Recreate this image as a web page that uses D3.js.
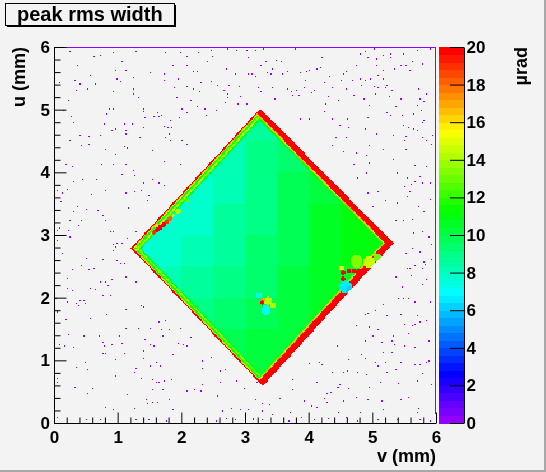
<!DOCTYPE html>
<html>
<head>
<meta charset="utf-8">
<script src="https://cdn.jsdelivr.net/npm/d3@7"></script>
<style>
  body { margin: 0; background: #f3f3f3; }
  #chart { position: relative; width: 546px; height: 472px; overflow: hidden; }
  #chart canvas, #chart svg { position: absolute; left: 0; top: 0; }
</style>
</head>
<body>
<div id="chart"></div>
<script>
// histogram range (mm) and z range (µrad)
const vRange = [0, 6];
const uRange = [0, 6];
const zRange = [0, 20];
const nBins = 300;

const xTicks = [0, 1, 2, 3, 4, 5, 6];
const yTicks = [0, 1, 2, 3, 4, 5, 6];
const zTicks = [0, 2, 4, 6, 8, 10, 12, 14, 16, 18, 20];

const title = "peak rms width";
const xTitle = "v (mm)";
const yTitle = "u (mm)";
const zTitle = "µrad";

// sensor corners [v, u], clockwise: left, top, right, bottom
const corners = [[1.21, 2.79], [3.24, 5.02], [5.33, 2.87], [3.28, 0.59]];

// value against distance in from each edge, 0.01 mm steps
// edges: left-top, top-right, right-bottom, bottom-left
const profileStep = 0.01;
const edgeProfiles = [
  [20, 20, 17, 14, 11, 11, 12, 14, 15, 13, 11, 10.5],
  [20, 20, 20, 20, 20, 20, 20, 20, 20, 17, 14, 12.5, 11.5, 11],
  [20, 20, 20, 20, 20, 20, 20, 20, 20, 20, 17, 14, 12.5, 11.5],
  [20, 20, 16, 13, 11, 11.5, 13, 14, 12.5, 11, 10]
];

// plateau inside the sensor, 0.5 mm cells, columns from v = 1.0, rows from u = 5.0 down
const innerV0 = 1.0, innerU0 = 5.0, innerStep = 0.5;
const inner = [
  [8.8, 8.8, 8.8, 8.5, 8.7, 9.1, 9.6, 10.0, 10.0],
  [8.1, 8.1, 8.0, 8.3, 8.8, 9.4, 10.0, 10.4, 10.6],
  [7.8, 7.8, 7.9, 8.3, 8.9, 9.6, 10.2, 10.6, 10.8],
  [7.6, 7.6, 7.9, 8.4, 9.1, 9.8, 10.4, 10.8, 11.0],
  [7.4, 7.6, 8.1, 8.6, 9.2, 9.9, 10.5, 10.9, 11.0],
  [7.9, 8.2, 8.6, 9.0, 9.4, 10.0, 10.5, 10.6, 10.8],
  [8.6, 8.8, 9.0, 9.3, 9.7, 10.1, 10.4, 10.6, 10.6],
  [9.3, 9.4, 9.5, 9.7, 10.0, 10.3, 10.5, 10.6, 10.6],
  [10.0, 10.0, 10.0, 10.0, 10.2, 10.4, 10.5, 10.5, 10.5]
];

// local features [v, u, radius, value], later ones drawn over earlier ones
const spots = [
  // streak inside the upper-left edge
  [1.95, 3.38, 0.045, 14], [2.10, 3.55, 0.035, 13], [1.62, 3.14, 0.035, 14],
  [1.57, 3.04, 0.035, 19], [1.62, 3.08, 0.040, 20], [1.67, 3.12, 0.040, 20], [1.72, 3.16, 0.040, 20],
  [1.77, 3.21, 0.035, 19], [1.82, 3.26, 0.032, 18], [1.87, 3.31, 0.028, 16],
  // spot near the centre
  [3.33, 1.80, 0.075, 7], [3.22, 2.04, 0.045, 7.5],
  [3.36, 1.95, 0.065, 14], [3.44, 1.88, 0.045, 14],
  [3.29, 1.97, 0.030, 17], [3.27, 1.92, 0.035, 20],
  // damage near the right corner
  [4.75, 2.58, 0.100, 13.5], [4.95, 2.57, 0.090, 14.5], [5.08, 2.64, 0.070, 13], [4.52, 2.47, 0.040, 15],
  [4.58, 2.17, 0.100, 6.5], [4.63, 2.12, 0.060, 6],
  [4.54, 2.30, 0.035, 20], [4.54, 2.40, 0.035, 20], [4.63, 2.43, 0.035, 20],
  [4.71, 2.43, 0.035, 20], [4.79, 2.41, 0.045, 20]
];

// thin rim of low bins: top row and right column
const rimValue = 0.3;
const rimTopU = 5.99;
const rimRightV = 5.99, rimRightFromU = 0.14;

// isolated low bins outside the sensor [v, u]
const strayValue = 0.3;
const strays = [
  [0.24,5.92],[0.72,5.87],[0.92,5.90],[1.29,5.93],[0.63,5.84],[1.74,5.90],[1.99,5.91],[2.28,5.90],
  [2.46,5.94],[2.72,5.96],[2.86,5.94],[3.02,5.94],[2.49,5.84],[2.41,5.76],[3.04,5.83],[2.09,5.85],
  [0.36,5.71],[1.07,5.77],[1.87,5.71],[2.08,5.70],[0.97,5.62],[1.13,5.62],[1.51,5.59],[1.73,5.57],
  [2.19,5.60],[2.26,5.61],[2.84,5.57],[3.04,5.56],[2.70,5.64],[0.58,5.54],[0.98,5.49],[1.05,5.45],
  [1.24,5.51],[1.72,5.47],[1.94,5.49],[2.31,5.43],[2.46,5.45],[2.57,5.38],[2.74,5.38],[2.91,5.37],
  [0.32,5.47],[0.40,5.40],[0.65,5.40],[0.08,5.42],[0.53,5.32],[0.92,5.28],[1.24,5.32],[1.25,5.25],
  [1.89,5.34],[2.08,5.36],[2.19,5.32],[2.29,5.29],[2.66,5.30],[2.73,5.19],[2.92,5.20],[0.34,5.31],
  [0.23,5.15],[1.32,5.19],[1.93,5.18],[2.14,5.14],[2.69,5.11],[2.88,5.10],[3.02,5.08],[2.72,5.24],
  [0.87,5.02],[0.92,5.01],[1.40,5.01],[1.40,4.97],[1.62,4.94],[1.65,4.89],[1.69,4.90],[2.08,4.94],
  [2.26,5.04],[2.37,5.01],[2.55,4.98],[2.01,5.01],[0.15,4.99],[0.27,4.88],[0.83,4.93],[1.97,4.87],
  [1.82,4.83],[2.39,4.90],[1.23,4.77],[1.42,4.86],[1.57,4.88],[0.30,4.79],[0.79,4.77],[0.91,4.68],
  [0.97,4.69],[1.10,4.77],[1.12,4.67],[1.40,4.70],[1.72,4.73],[1.79,4.70],[1.85,4.72],[0.41,4.59],
  [0.54,4.57],[0.72,4.59],[1.13,4.61],[1.35,4.55],[1.80,4.61],[1.74,4.56],[1.82,4.51],[2.01,4.52],
  [0.24,4.51],[0.43,4.43],[0.54,4.45],[0.81,4.37],[1.11,4.40],[1.15,4.39],[1.55,4.35],[0.96,4.29],
  [2.08,4.44],[0.01,4.20],[0.19,4.14],[0.75,4.14],[0.92,4.13],[1.12,4.14],[1.72,4.18],[1.99,4.13],
  [0.28,4.09],[1.24,4.03],[1.07,3.97],[1.26,3.95],[0.45,3.89],[0.67,3.88],[1.40,3.83],[1.54,3.88],
  [1.64,3.82],[1.72,3.78],[0.30,3.85],[0.04,3.70],[0.13,3.66],[0.21,3.72],[0.80,3.70],[1.13,3.66],
  [1.27,3.69],[1.37,3.70],[1.49,3.62],[0.59,3.65],[1.47,3.54],[0.10,3.52],[0.37,3.45],[0.51,3.40],
  [0.68,3.38],[0.77,3.31],[0.81,3.23],[1.18,3.43],[0.31,3.36],[0.25,3.23],[0.42,3.22],[0.38,3.14],
  [0.08,3.10],[0.05,3.07],[0.23,3.06],[0.89,3.04],[0.93,3.04],[1.28,3.04],
  [3.17,5.95],[3.29,5.96],[3.79,5.97],[4.81,5.89],[4.88,5.93],[5.03,5.96],[5.17,5.87],[5.28,5.89],
  [5.49,5.89],[5.70,5.94],[5.90,5.97],[3.33,5.77],[3.49,5.79],[3.57,5.77],[4.21,5.83],[4.93,5.82],
  [5.07,5.81],[5.28,5.82],[3.24,5.70],[3.42,5.65],[3.96,5.60],[4.13,5.65],[4.19,5.67],[4.58,5.61],
  [4.76,5.70],[5.07,5.71],[5.44,5.71],[5.52,5.70],[5.62,5.76],[5.79,5.73],[3.10,5.57],[3.34,5.59],
  [3.40,5.56],[3.66,5.60],[3.58,5.57],[3.87,5.59],[4.01,5.63],[4.56,5.56],[5.17,5.63],[5.35,5.64],
  [5.59,5.63],[3.17,5.52],[4.33,5.52],[4.81,5.48],[4.96,5.49],[5.10,5.54],[5.17,5.48],[3.94,5.46],
  [4.26,5.43],[4.51,5.46],[4.69,5.47],[4.89,5.46],[5.23,5.38],[4.82,5.39],[5.03,5.37],[3.20,5.35],
  [3.25,5.29],[3.43,5.34],[3.67,5.32],[3.73,5.29],[3.81,5.30],[3.93,5.35],[4.09,5.30],[4.36,5.34],
  [4.60,5.32],[5.09,5.35],[5.21,5.35],[5.31,5.31],[5.72,5.32],[5.85,5.24],[3.46,5.16],[3.76,5.22],
  [3.85,5.23],[4.05,5.26],[4.30,5.20],[4.70,5.22],[4.87,5.16],[5.05,5.25],[5.27,5.20],[5.45,5.16],
  [5.75,5.16],[5.80,5.13],[4.27,5.09],[4.47,5.14],[4.95,5.07],[5.37,5.05],[5.70,5.07],[5.76,4.99],
  [4.26,4.96],[5.23,4.95],[5.29,4.91],[5.47,4.91],[5.65,4.92],[3.87,4.84],[4.01,4.85],[4.37,4.85],
  [4.61,4.85],[4.92,4.87],[5.48,4.76],[5.78,4.78],[5.80,4.83],[4.48,4.74],[4.62,4.72],[5.56,4.71],
  [5.65,4.69],[5.70,4.66],[4.89,4.69],[5.07,4.61],[5.33,4.58],[5.53,4.57],[5.79,4.54],[5.85,4.52],
  [5.95,4.58],[4.43,4.54],[4.60,4.55],[4.94,4.42],[5.16,4.37],[5.51,4.50],[4.36,4.43],[4.76,4.31],
  [4.91,4.27],[4.56,4.32],[5.92,4.44],[5.32,4.21],[5.53,4.37],[5.66,4.11],[5.85,4.10],[4.70,4.14],
  [4.90,3.99],[4.95,4.15],[5.54,3.91],[5.66,3.84],[5.75,3.93],[5.78,3.82],[4.77,3.90],[5.39,3.99],
  [4.93,3.67],[5.09,3.69],[5.50,3.77],[5.58,3.68],[5.61,3.81],[5.91,3.83],[5.21,3.55],[5.55,3.61],
  [5.38,3.50],[5.72,3.45],[5.80,3.37],[5.91,3.56],[5.01,3.44],[5.49,3.23],[5.62,3.24],[5.37,3.23],
  [5.98,3.28],[5.65,3.02],[5.79,3.04],
  [0.25,2.96],[0.04,2.90],[0.13,2.70],[0.28,2.45],[0.42,2.51],[0.51,2.63],[0.55,2.45],[0.63,2.47],
  [0.76,2.60],[0.92,2.85],[0.99,2.86],[1.07,2.86],[1.15,2.94],[0.92,2.74],[0.97,2.80],[0.98,2.58],
  [1.05,2.54],[1.10,2.54],[1.14,2.34],[1.28,2.24],[0.73,2.24],[0.81,2.25],[0.90,2.29],[0.84,2.18],
  [0.58,2.14],[0.65,2.13],[0.77,2.02],[0.88,2.02],[0.21,2.32],[0.21,2.14],[0.28,2.10],[0.03,1.98],
  [0.21,1.92],[0.35,1.90],[0.38,1.88],[0.40,1.94],[0.46,1.94],[0.48,1.91],[0.05,1.76],[0.18,1.65],
  [0.58,1.67],[0.83,1.72],[1.13,1.81],[1.36,1.87],[1.41,1.85],[0.22,1.41],[0.46,1.39],[0.71,1.39],
  [1.03,1.39],[1.13,1.51],[1.32,1.51],[1.50,1.50],[1.64,1.61],[1.75,1.63],[1.69,1.48],[1.70,1.39],
  [1.81,1.49],[1.98,1.51],[2.15,1.37],[0.08,1.24],[0.17,1.22],[0.31,1.21],[0.77,1.29],[0.79,1.22],
  [0.90,1.25],[1.07,1.27],[1.42,1.32],[1.50,1.25],[1.57,1.22],[1.94,1.27],[2.03,1.24],[2.09,1.22],
  [0.76,1.11],[0.80,1.11],[1.10,1.11],[1.40,1.15],[1.86,1.09],[2.46,1.05],[0.96,1.01],[1.40,1.02],
  [0.49,0.96],[1.60,0.96],[2.33,0.99],[0.34,0.89],[0.52,0.85],[1.50,0.91],[1.66,0.91],[1.28,0.86],
  [0.97,0.75],[1.26,0.80],[1.37,0.70],[1.55,0.68],[1.60,0.64],[1.65,0.65],[1.73,0.66],[1.84,0.68],
  [0.04,0.70],[0.05,0.64],[2.34,0.86],[2.60,0.83],[2.69,0.84],[1.54,0.53],[1.70,0.52],[2.09,0.51],
  [2.20,0.52],[2.32,0.50],[2.33,0.60],[2.61,0.64],[2.87,0.67],[2.99,0.55],[0.33,0.58],[0.52,0.47],
  [0.60,0.54],[1.15,0.45],[1.44,0.36],[1.47,0.30],[1.54,0.33],[1.63,0.33],[1.81,0.37],[2.57,0.43],
  [0.81,0.24],[0.92,0.20],[1.27,0.23],[1.86,0.21],[2.65,0.19],[2.79,0.22],[2.92,0.20],[3.04,0.21],
  [0.05,0.08],[0.50,0.05],[0.73,0.05],[1.28,0.04],[1.41,0.05],[1.49,0.04],[1.77,0.02],[2.55,0.02],
  [2.71,0.07],[2.84,0.05],[3.13,0.05],
  [5.88,2.96],[5.93,2.85],[5.53,2.71],[5.62,2.78],[5.75,2.73],[5.66,2.51],[5.54,2.46],[5.59,2.46],
  [5.78,2.47],[5.80,2.57],[5.83,2.53],[5.93,2.61],[5.37,2.34],[5.61,2.35],[5.84,2.30],[5.78,2.20],
  [5.47,2.16],[5.41,1.99],[5.49,1.99],[5.57,1.98],[5.66,1.92],[5.91,1.92],[5.17,1.89],[5.04,1.79],
  [4.88,1.73],[4.93,1.75],[5.22,1.70],[5.44,1.72],[5.70,1.70],[5.85,1.62],[5.50,1.57],[5.62,1.54],
  [5.67,1.56],[5.75,1.61],[4.76,1.55],[4.95,1.53],[5.10,1.48],[5.02,1.39],[5.33,1.39],[5.56,1.43],
  [5.88,1.30],[4.45,1.22],[4.89,1.30],[5.15,1.29],[5.31,1.30],[5.34,1.25],[5.17,1.13],[5.31,1.13],
  [5.51,1.22],[5.67,1.20],[4.02,0.95],[4.18,0.96],[4.22,0.93],[4.62,1.01],[4.82,1.08],[4.89,1.02],
  [5.04,0.97],[5.10,0.91],[5.20,0.96],[5.45,0.97],[5.66,0.92],[5.75,0.93],[5.84,0.96],[5.89,0.99],
  [4.37,0.80],[4.54,0.80],[4.61,0.83],[4.77,0.81],[4.90,0.77],[5.23,0.80],[5.37,0.84],[5.78,0.78],
  [3.74,0.68],[4.14,0.65],[3.76,0.52],[4.28,0.46],[4.34,0.48],[4.44,0.56],[4.47,0.57],[4.48,0.61],
  [4.64,0.54],[4.95,0.57],[5.12,0.64],[5.41,0.62],[5.70,0.66],[5.92,0.61],[3.55,0.38],[3.39,0.29],
  [3.27,0.30],[3.16,0.36],[3.18,0.64],[3.92,0.34],[4.06,0.27],[4.26,0.38],[4.28,0.32],[4.56,0.34],
  [4.76,0.40],[4.93,0.37],[5.15,0.35],[5.44,0.36],[5.57,0.40],[5.72,0.22],[3.26,0.19],[3.42,0.13],
  [3.71,0.16],[4.13,0.24],[4.47,0.16],[4.80,0.16],[5.17,0.20],[5.71,0.16],[3.12,0.07],[3.27,0.04],
  [3.60,0.07],[3.69,0.03],[3.88,0.08],[4.10,0.05],[4.31,0.07],[4.60,0.08],[4.77,0.03],[5.09,0.04],
  [5.38,0.05],[5.75,0.05],[5.91,0.03]
];

// ---- scales ----
const frame = { left: 54, right: 436, top: 47, bottom: 423 };
const bar = { left: 439, right: 464 };
const x = d3.scaleLinear().domain(vRange).range([frame.left, frame.right]);
const y = d3.scaleLinear().domain(uRange).range([frame.bottom, frame.top]);
const zAxisScale = d3.scaleLinear().domain(zRange).range([frame.bottom, frame.top]);

// ROOT "pretty" palette: 50 colours from violet to red
const nColors = 50;
const palette = d3.range(nColors).map(k =>
  d3.hsl(k === nColors - 1 ? 0 : 280 - (k + 1) * 280 / nColors, 1, 0.5).formatHex());
const color = d3.scaleQuantize().domain(zRange).range(palette);

// ---- bin contents ----
const binW = (vRange[1] - vRange[0]) / nBins;
const binKey = (i, j) => i * nBins + j;
const strayBins = new Set(strays.map(([v, u]) => binKey(Math.floor(v / binW), Math.floor(u / binW))));

const edges = corners.map((p, k) => {
  const q = corners[(k + 1) % corners.length];
  const dv = q[0] - p[0], du = q[1] - p[1], len = Math.hypot(dv, du);
  return { p, nv: du / len, nu: -dv / len };
});

function sensorValue(v, u) {
  const dist = edges.map(e => (v - e.p[0]) * e.nv + (u - e.p[1]) * e.nu);
  if (dist.some(d => d < 0)) return null;
  let val = null;
  dist.forEach((d, k) => {
    const idx = Math.floor(d / profileStep);
    if (idx < edgeProfiles[k].length) val = Math.max(val === null ? -1 : val, edgeProfiles[k][idx]);
  });
  if (val === null) {
    const c = Math.max(0, Math.min(inner[0].length - 1, Math.floor((v - innerV0) / innerStep)));
    const r = Math.max(0, Math.min(inner.length - 1, Math.floor((innerU0 - u) / innerStep)));
    val = inner[r][c];
  }
  spots.forEach(([sv, su, sr, sval]) => {
    if (Math.hypot(v - sv, u - su) <= sr) val = sval;
  });
  return val;
}

function binValue(i, j) {
  const v = vRange[0] + (i + 0.5) * binW;
  const u = uRange[0] + (j + 0.5) * binW;
  if (j === Math.floor(rimTopU / binW)) return rimValue;
  if (i === Math.floor(rimRightV / binW) && u >= rimRightFromU) return rimValue;
  const s = sensorValue(v, u);
  if (s !== null) return s;
  if (strayBins.has(binKey(i, j))) return strayValue;
  return null;
}

// ---- draw the bins ----
const chart = d3.select('#chart');
const canvas = chart.append('canvas').attr('width', 546).attr('height', 472).node();
const ctx = canvas.getContext('2d');

const off = document.createElement('canvas');
off.width = nBins; off.height = nBins;
const octx = off.getContext('2d');
const image = octx.createImageData(nBins, nBins);
const rgbOf = new Map(palette.map(c => [c, d3.rgb(c)]));
for (let i = 0; i < nBins; i++) {
  for (let j = 0; j < nBins; j++) {
    const val = binValue(i, j);
    if (val === null) continue;
    const c = rgbOf.get(color(val));
    const idx = ((nBins - 1 - j) * nBins + i) * 4;
    image.data[idx] = c.r; image.data[idx + 1] = c.g; image.data[idx + 2] = c.b; image.data[idx + 3] = 255;
  }
}
octx.putImageData(image, 0, 0);
ctx.imageSmoothingEnabled = false;
ctx.drawImage(off, x(vRange[0]), y(uRange[1]), x(vRange[1]) - x(vRange[0]), y(uRange[0]) - y(uRange[1]));

// ---- svg overlay ----
const svg = chart.append('svg').attr('width', 546).attr('height', 472);
const font = '"Liberation Sans", Arial, Helvetica, sans-serif';

// canvas bevel
svg.append('rect').attr('x', 0).attr('y', 470).attr('width', 546).attr('height', 2).attr('fill', '#a8a8a8');
svg.append('rect').attr('x', 544).attr('y', 0).attr('width', 2).attr('height', 472).attr('fill', '#a8a8a8');

// colour bar
svg.append('g')
  .selectAll('rect')
  .data(palette)
  .join('rect')
  .attr('x', bar.left)
  .attr('width', bar.right - bar.left)
  .attr('y', (c, k) => zAxisScale((k + 1) * (zRange[1] - zRange[0]) / nColors))
  .attr('height', (c, k) => zAxisScale(k * zRange[1] / nColors) - zAxisScale((k + 1) * zRange[1] / nColors) + 0.5)
  .attr('fill', c => c)
  .attr('shape-rendering', 'crispEdges');

function styleAxis(g, size) {
  g.attr('font-family', font).attr('font-size', size).attr('font-weight', 'bold');
  g.selectAll('path, line').attr('stroke', '#000').attr('stroke-width', 1);
  g.selectAll('text').attr('fill', '#000');
}

const minorOf = ticks => d3.range(ticks[0], ticks[ticks.length - 1] + 1e-9, 0.2)
  .filter(t => Math.abs(t - Math.round(t)) > 1e-6);

// x axis
svg.append('g')
  .attr('transform', `translate(0,${frame.bottom})`)
  .call(d3.axisBottom(x).tickValues(minorOf(xTicks)).tickSizeInner(-5.5).tickSizeOuter(0).tickFormat(''))
  .call(g => g.select('.domain').remove())
  .call(g => styleAxis(g, 17));
svg.append('g')
  .attr('transform', `translate(0,${frame.bottom})`)
  .call(d3.axisBottom(x).tickValues(xTicks).tickSizeInner(-10.5).tickSizeOuter(0).tickPadding(7.5).tickFormat(d3.format('d')))
  .call(g => styleAxis(g, 17));

// y axis
svg.append('g')
  .attr('transform', `translate(${frame.left},0)`)
  .call(d3.axisLeft(y).tickValues(minorOf(yTicks)).tickSizeInner(-6.5).tickSizeOuter(0).tickFormat(''))
  .call(g => g.select('.domain').remove())
  .call(g => styleAxis(g, 17));
svg.append('g')
  .attr('transform', `translate(${frame.left},0)`)
  .call(d3.axisLeft(y).tickValues(yTicks).tickSizeInner(-12.5).tickSizeOuter(0).tickPadding(4).tickFormat(d3.format('d')))
  .call(g => styleAxis(g, 17));

// z axis on the colour bar
svg.append('g')
  .attr('transform', `translate(${bar.right},0)`)
  .call(d3.axisRight(zAxisScale).tickValues(zTicks).tickSizeInner(-14).tickSizeOuter(0).tickPadding(2.5).tickFormat(d3.format('d')))
  .call(g => styleAxis(g, 17));

// axis titles
svg.append('text')
  .attr('x', frame.right).attr('y', 461.5)
  .attr('text-anchor', 'end')
  .attr('font-family', font).attr('font-size', 18).attr('font-weight', 'bold')
  .text(xTitle);
svg.append('text')
  .attr('transform', `translate(25,${frame.top}) rotate(-90)`)
  .attr('text-anchor', 'end')
  .attr('font-family', font).attr('font-size', 18).attr('font-weight', 'bold')
  .text(yTitle);
svg.append('text')
  .attr('transform', `translate(527,${frame.top}) rotate(-90)`)
  .attr('text-anchor', 'end')
  .attr('font-family', font).attr('font-size', 18).attr('font-weight', 'bold')
  .text(zTitle);

// title box with shadow
svg.append('rect').attr('x', 7).attr('y', 5).attr('width', 169).attr('height', 22).attr('fill', '#000');
svg.append('rect').attr('x', 5.5).attr('y', 3.5).attr('width', 169).attr('height', 22)
  .attr('fill', '#f3f3f3').attr('stroke', '#000').attr('stroke-width', 1);
svg.append('text')
  .attr('x', 17).attr('y', 20.5)
  .attr('font-family', font).attr('font-size', 20).attr('font-weight', 'bold')
  .text(title);
</script>
</body>
</html>
